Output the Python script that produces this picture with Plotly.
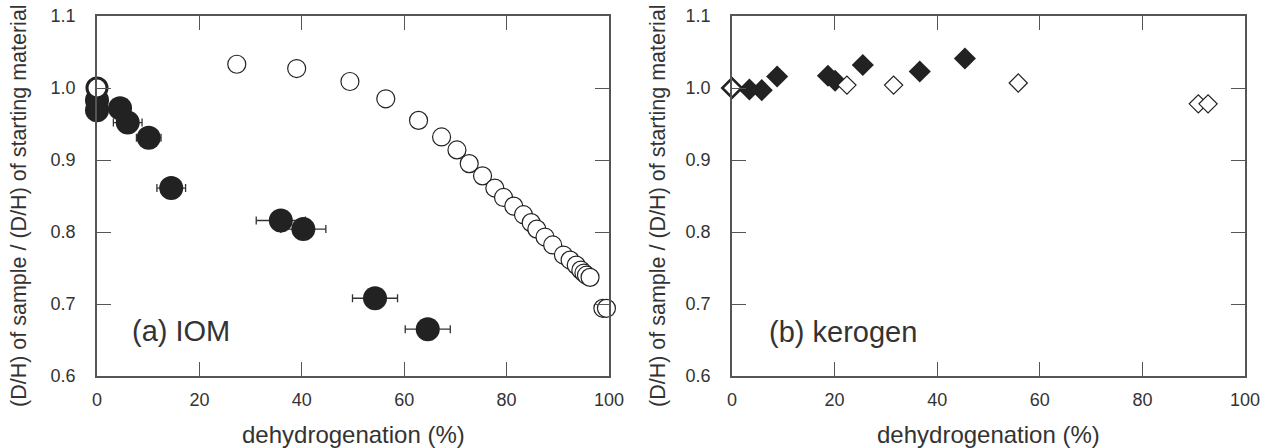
import plotly.graph_objects as go

# ---- data: (a) IOM ----
iom_fill_x = [0.0, 0.0, 4.5, 6.0, 10.1, 14.5, 35.9, 40.3, 54.3, 64.6]
iom_fill_y = [0.983, 0.969, 0.972, 0.952, 0.931, 0.861, 0.816, 0.804, 0.708, 0.665]
iom_fill_err = [0.0, 0.0, 2.0, 2.8, 2.4, 2.8, 4.8, 4.4, 4.4, 4.4]

iom_open_x = [27.3, 39.0, 49.4, 56.4, 62.8, 67.3, 70.3, 72.7, 75.3, 77.7, 79.4, 81.4,
              83.3, 84.8, 85.9, 87.5, 89.0, 91.1, 92.4, 93.6, 94.5, 95.1, 95.6, 96.3,
              98.8, 99.5]
iom_open_y = [1.033, 1.027, 1.009, 0.985, 0.955, 0.932, 0.914, 0.895, 0.878, 0.861, 0.848,
              0.836, 0.824, 0.813, 0.804, 0.793, 0.782, 0.768, 0.761, 0.754, 0.747, 0.743,
              0.740, 0.737, 0.694, 0.694]
iom_start_x = [0.0]
iom_start_y = [1.0]

# ---- data: (b) kerogen ----
ker_fill_x = [3.4, 5.8, 8.8, 18.7, 20.1, 25.5, 36.6, 45.4]
ker_fill_y = [0.998, 0.997, 1.016, 1.017, 1.010, 1.032, 1.023, 1.041]
ker_open_x = [22.4, 31.5, 55.8, 90.9, 92.8]
ker_open_y = [1.004, 1.004, 1.007, 0.978, 0.978]
ker_start_x = [0.0]
ker_start_y = [1.0]

x_ticks = [0, 20, 40, 60, 80, 100]
y_ticks = [0.6, 0.7, 0.8, 0.9, 1.0, 1.1]

W, H = 1271, 448
DARK = "#222222"
AXC = "#555555"
FONT = "Liberation Sans, Arial, sans-serif"


def px(x):
    return x / W


def py(y):
    return 1 - y / H


fig = go.Figure()

# panel (a)
fig.add_trace(go.Scatter(
    x=iom_fill_x, y=iom_fill_y, mode="markers", xaxis="x", yaxis="y",
    marker=dict(symbol="circle", size=24, color=DARK, line=dict(width=0)),
    error_x=dict(type="data", array=iom_fill_err, symmetric=True, color="#333333",
                 thickness=1.3, width=4),
    cliponaxis=False, showlegend=False))
fig.add_trace(go.Scatter(
    x=iom_open_x, y=iom_open_y, mode="markers", xaxis="x", yaxis="y",
    marker=dict(symbol="circle", size=18, color="white", line=dict(width=1.2, color=DARK)),
    cliponaxis=False, showlegend=False))
fig.add_trace(go.Scatter(
    x=iom_start_x, y=iom_start_y, mode="markers", xaxis="x", yaxis="y",
    marker=dict(symbol="circle", size=20, color="white", line=dict(width=3, color=DARK)),
    cliponaxis=False, showlegend=False))

# panel (b)
fig.add_trace(go.Scatter(
    x=ker_fill_x, y=ker_fill_y, mode="markers", xaxis="x2", yaxis="y2",
    marker=dict(symbol="diamond", size=17, color=DARK, line=dict(width=0)),
    cliponaxis=False, showlegend=False))
fig.add_trace(go.Scatter(
    x=ker_open_x, y=ker_open_y, mode="markers", xaxis="x2", yaxis="y2",
    marker=dict(symbol="diamond", size=14, color="white", line=dict(width=1.2, color=DARK)),
    cliponaxis=False, showlegend=False))
fig.add_trace(go.Scatter(
    x=ker_start_x, y=ker_start_y, mode="markers", xaxis="x2", yaxis="y2",
    marker=dict(symbol="diamond", size=15, color="white", line=dict(width=2.5, color=DARK)),
    cliponaxis=False, showlegend=False))

xa = dict(range=[0, 100], tickvals=x_ticks, ticks="inside", ticklen=14, tickwidth=1.3,
          tickcolor=AXC, showline=True, linecolor=AXC, linewidth=1.5, mirror="ticks",
          showgrid=False, zeroline=False, ticklabelstandoff=7, automargin=False,
          ticklabeloverflow="allow",
          tickfont=dict(family=FONT, size=18, color="#333333"))
ya = dict(range=[0.6, 1.1], tickvals=y_ticks, tickformat=".1f", ticks="inside", ticklen=14,
          tickwidth=1.3, tickcolor=AXC, showline=True, linecolor=AXC, linewidth=1.5,
          mirror="ticks", showgrid=False, zeroline=False, ticklabelstandoff=16,
          automargin=False, ticklabeloverflow="allow",
          tickfont=dict(family=FONT, size=18, color="#333333"))

fig.update_layout(
    width=W, height=H, margin=dict(l=0, r=0, t=0, b=0, pad=0, autoexpand=False),
    paper_bgcolor="white", plot_bgcolor="white",
    xaxis=dict(xa, domain=[px(97), px(609)], anchor="y"),
    yaxis=dict(ya, domain=[py(376), py(16)], anchor="x"),
    xaxis2=dict(xa, domain=[px(732), px(1245)], anchor="y2"),
    yaxis2=dict(ya, domain=[py(376), py(16)], anchor="x2"),
)

XF = dict(family=FONT, size=24, color="#333333")
YF = dict(family=FONT, size=21.5, color="#333333")
for xc in (353, 988):
    fig.add_annotation(text="dehydrogenation (%)", x=px(xc), y=py(434), xref="paper",
                       yref="paper", xanchor="center", yanchor="middle", showarrow=False, font=XF)
for xc in (19, 658):
    fig.add_annotation(text="(D/H) of sample / (D/H) of starting material", x=px(xc),
                       y=py(206), xref="paper", yref="paper", textangle=-90, xanchor="center",
                       yanchor="middle", showarrow=False, font=YF)

LF = dict(family=FONT, size=29, color="#333333")
fig.add_annotation(text="(a) IOM", xref="paper", yref="paper", x=px(130), y=py(331),
                   xanchor="left", yanchor="middle", showarrow=False, font=LF)
fig.add_annotation(text="(b) kerogen", xref="paper", yref="paper", x=px(767), y=py(332),
                   xanchor="left", yanchor="middle", showarrow=False, font=LF)

# remove the default 8px page margin so the figure sits at the window's origin
fig.write_html("out.html", config={"displayModeBar": False},
               post_script="document.body.style.margin='0';")
